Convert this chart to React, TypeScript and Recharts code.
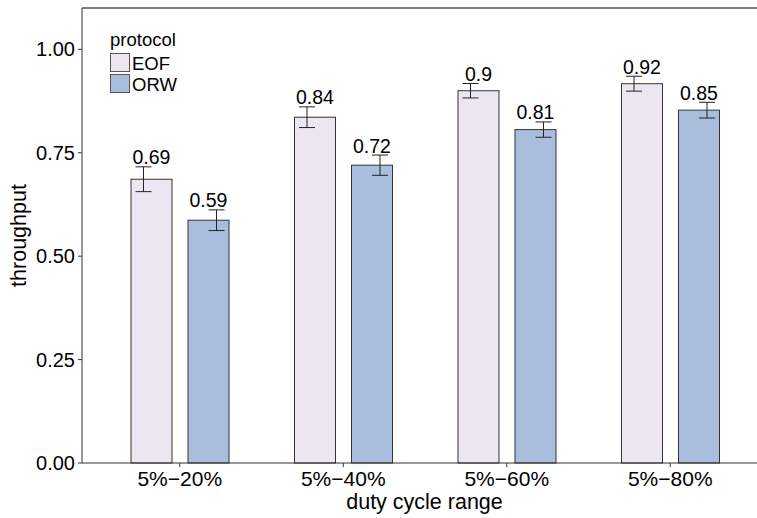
import { BarChart, Bar, XAxis, YAxis, ReferenceLine } from "recharts";

const FONT = '"Liberation Sans", Arial, sans-serif';

// duty cycle ranges
const categories = ["5%−20%", "5%−40%", "5%−60%", "5%−80%"];
// mean throughput per protocol
const eofValues = [0.686, 0.836, 0.9, 0.917];
const orwValues = [0.587, 0.72, 0.806, 0.853];
// half-width of error bars
const eofErrors = [0.03, 0.025, 0.0175, 0.018];
const orwErrors = [0.025, 0.0245, 0.0185, 0.019];
const yTicks = [0, 0.25, 0.5, 0.75, 1.0];
const protocols = ["EOF", "ORW"];

const data = categories.map((cat, i) => ({
  cat,
  EOF: eofValues[i],
  ORW: orwValues[i],
  eofErr: eofErrors[i],
  orwErr: orwErrors[i],
}));

const COLORS: Record<string, string> = { EOF: "#ECE6F2", ORW: "#A8BEDC" };

const fmt = (v: number) => String(Number(v.toFixed(2)));

// bar + dodged error bar + value label
const BarWithError = (props: any) => {
  const { x, y, width, height, fill, payload, valueKey, errKey, shift } = props;
  const value = payload[valueKey];
  const err = payload[errKey];
  const base = y + height;
  const perUnit = value ? height / value : 0;
  const top = base - (value + err) * perUnit;
  const bottom = base - (value - err) * perUnit;
  const cx = x + width / 2;
  const ex = cx + shift;
  return (
    <g>
      <rect x={x} y={y} width={width} height={height} fill={fill} stroke="#333" strokeWidth={1} />
      <g stroke="#222" strokeWidth={1}>
        <line x1={ex} x2={ex} y1={top} y2={bottom} />
        <line x1={ex - 8} x2={ex + 8} y1={top} y2={top} />
        <line x1={ex - 8} x2={ex + 8} y1={bottom} y2={bottom} />
      </g>
      <text
        x={cx}
        y={top - 2.5}
        textAnchor="middle"
        fontSize={19.5}
        fontFamily={FONT}
        fill="#000"
      >
        {fmt(value)}
      </text>
    </g>
  );
};

// legend drawn as overlay in the top-left of the panel
const LegendBox = () => (
  <svg
    width={90}
    height={66}
    style={{ position: "absolute", left: 108, top: 30, display: "block" }}
  >
    <text x={2} y={16} fontSize={18.5} fontFamily={FONT} fill="#000">
      protocol
    </text>
    {protocols.map((name, i) => (
      <g key={name}>
        <rect
          x={2.5}
          y={23.5 + i * 21}
          width={19}
          height={18}
          fill={COLORS[name]}
          stroke="#555"
        />
        <text x={24} y={39.5 + i * 21} fontSize={18.5} fontFamily={FONT} fill="#000">
          {name}
        </text>
      </g>
    ))}
  </svg>
);

export default function App() {
  return (
    <div style={{ position: "relative", width: 757, height: 518, background: "#fff" }}>
      <style>{`body{margin:0;}`}</style>
      <BarChart
        width={757}
        height={518}
        data={data}
        margin={{ top: 8, right: 0, bottom: 0, left: 0 }}
        barSize={41}
        barGap={16}
      >
        <XAxis
          dataKey="cat"
          height={55}
          padding={{ left: 16, right: 5 }}
          tickSize={4}
          tickMargin={4}
          stroke="#333"
          tick={{ fontSize: 21, fill: "#000", fontFamily: FONT }}
          label={({ viewBox }: any) => (
            <text
              x={viewBox.x + viewBox.width / 2 + 5}
              y={viewBox.y + 46}
              textAnchor="middle"
              fontSize={21.5}
              fontFamily={FONT}
              fill="#000"
            >
              duty cycle range
            </text>
          )}
        />
        <YAxis
          width={82}
          domain={[0, 1.1]}
          ticks={yTicks}
          tickFormatter={(v: number) => v.toFixed(2)}
          tickSize={4}
          tickMargin={3}
          stroke="#333"
          tick={{ fontSize: 20, fill: "#000", fontFamily: FONT }}
          label={({ viewBox }: any) => (
            <text
              x={26}
              y={viewBox.y + viewBox.height / 2}
              transform={`rotate(-90, 26, ${viewBox.y + viewBox.height / 2})`}
              textAnchor="middle"
              fontSize={21.5}
              fontFamily={FONT}
              fill="#000"
            >
              throughput
            </text>
          )}
        />
        <ReferenceLine y={1.1} stroke="#000" strokeWidth={1.2} />
        <Bar
          dataKey="EOF"
          name="EOF"
          fill={COLORS.EOF}
          isAnimationActive={false}
          shape={(p: any) => <BarWithError {...p} valueKey="EOF" errKey="eofErr" shift={-8} />}
        />
        <Bar
          dataKey="ORW"
          name="ORW"
          fill={COLORS.ORW}
          isAnimationActive={false}
          shape={(p: any) => <BarWithError {...p} valueKey="ORW" errKey="orwErr" shift={8} />}
        />
      </BarChart>
      <LegendBox />
    </div>
  );
}
